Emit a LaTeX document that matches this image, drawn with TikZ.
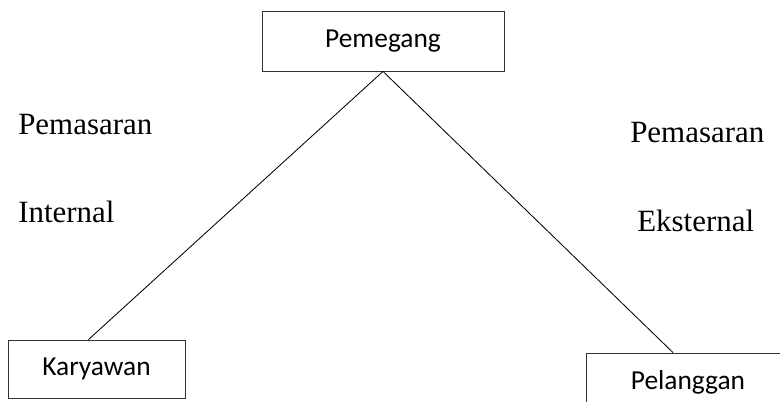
\documentclass[tikz,border=0pt]{standalone}
\usepackage{fontspec}
\setmainfont{Liberation Serif}
\newfontfamily\boxfont{Carlito}
\usetikzlibrary{positioning}

\begin{document}
\begin{tikzpicture}
\tikzset{
  party/.style={draw=black!80, semithick, rectangle, inner sep=0pt, font=\boxfont\fontsize{19.5}{22}\selectfont},
  side/.style={anchor=base west, inner sep=0pt, font=\fontsize{22}{25}\selectfont}
}
\clip (0,0) rectangle (19.5,10.05);
%boxes
\node[party, minimum width=6.05cm, minimum height=1.5cm] (pemegang) at (9.575,9.025) {Pemegang};
\node[party, minimum width=4.425cm, minimum height=1.45cm] (karyawan) at (2.4125,0.825) {Karyawan};
\node[party, minimum width=5.1cm, minimum height=1.45cm] (pelanggan) at (17.2,0.5) {Pelanggan};
%lines
\draw[black, line width=0.6pt] (pemegang.south) -- ([xshift=-0.2cm]karyawan.north);
\draw[black, line width=0.6pt] (pemegang.south) -- ([xshift=-0.375cm]pelanggan.north);
%labels
\node[side] (intA) at (0.45,6.675) {Pemasaran};
\node[side] (intB) at (0.45,4.475) {Internal};
\node[side] (eksA) at (15.75,6.475) {Pemasaran};
\node[side] (eksB) at (15.925,4.25) {Eksternal};
\end{tikzpicture}
\end{document}
